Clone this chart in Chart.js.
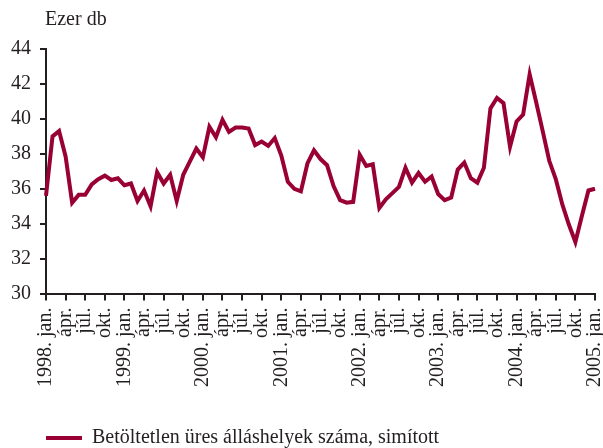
<!DOCTYPE html>
<html>
<head>
<meta charset="utf-8">
<script src="https://cdn.jsdelivr.net/npm/chart.js@4.4.0/dist/chart.umd.min.js"></script>
<style>
  html, body { margin: 0; padding: 0; background: #ffffff; }
  #wrap { position: relative; width: 603px; height: 448px; }
</style>
</head>
<body>
<div id="wrap"><canvas id="c" width="603" height="448"></canvas></div>
<script>
// ---- data ----
const years = ["1998", "1999", "2000", "2001", "2002", "2003", "2004", "2005"];
const quarterMonths = ["jan.", "ápr.", "júl.", "okt."];
const unitLabel = "Ezer db";
const seriesName = "Betöltetlen üres álláshelyek száma, simított";
const vacancies = [
  35.6, 39.0, 39.3, 37.85, 35.2, 35.65, 35.65, 36.25, 36.55, 36.75, 36.5, 36.6,
  36.2, 36.3, 35.3, 35.9, 35.0, 36.95, 36.3, 36.8, 35.3, 36.8, 37.55, 38.3,
  37.8, 39.55, 38.95, 39.95, 39.25, 39.5, 39.5, 39.45, 38.5, 38.7, 38.45, 38.9,
  37.9, 36.4, 36.0, 35.85, 37.45, 38.2, 37.7, 37.35, 36.15, 35.35, 35.2, 35.25,
  37.95, 37.3, 37.4, 34.9, 35.4, 35.75, 36.1, 37.2, 36.35, 36.9, 36.4, 36.7,
  35.7, 35.35, 35.5, 37.1, 37.5, 36.6, 36.35, 37.2, 40.6, 41.2, 40.9, 38.4,
  39.85, 40.25, 42.55, 40.95, 39.3, 37.6, 36.55, 35.1, 33.95, 32.95, 34.45, 35.9,
  36.0
];
const yMin = 30, yMax = 44, yStep = 2;

// build month labels (every third month labelled)
const labels = vacancies.map((v, i) => {
  if (i % 3 !== 0) return "";
  const m = quarterMonths[(i % 12) / 3];
  return (i % 12 === 0) ? years[i / 12] + ". " + m : m;
});

const FONT = "'Liberation Serif', 'Times New Roman', serif";
const INK = "#231f20";
const LINE = "#990033";
const LEGEND_PAD = 4;
const LEGEND_DROP = 10;

const unitPlugin = {
  id: 'unitText',
  afterLayout(chart) {
    // align legend sample with the left edge of the plot, sit it lower
    const lg = chart.legend;
    if (lg) {
      const dx = chart.chartArea.left - LEGEND_PAD - lg.left;
      lg.left += dx; lg.right += dx;
      lg.top += LEGEND_DROP; lg.bottom += LEGEND_DROP;
    }
  },
  afterDraw(chart) {
    const ctx = chart.ctx;
    ctx.save();
    ctx.font = "20px " + FONT;
    ctx.fillStyle = INK;
    ctx.textBaseline = "alphabetic";
    ctx.textAlign = "left";
    ctx.fillText(unitLabel, chart.chartArea.left - 1, 25);
    ctx.restore();
  }
};

new Chart(document.getElementById('c'), {
  type: 'line',
  data: {
    labels: labels,
    datasets: [{
      label: seriesName,
      data: vacancies,
      borderColor: LINE,
      backgroundColor: LINE,
      borderWidth: 4,
      pointRadius: 0,
      tension: 0,
      fill: false
    }]
  },
  options: {
    responsive: false,
    animation: false,
    layout: { padding: { left: 2, right: 8, top: 49, bottom: 0 } },
    plugins: {
      legend: {
        position: 'bottom',
        align: 'start',
        labels: {
          boxWidth: 36,
          boxHeight: 4,
          padding: LEGEND_PAD,
          color: INK,
          font: { family: FONT, size: 20 },
          generateLabels(chart) {
            const items = Chart.defaults.plugins.legend.labels.generateLabels(chart);
            items.forEach(it => { it.lineWidth = 0; it.fillStyle = LINE; });
            return items;
          }
        }
      },
      tooltip: { enabled: false }
    },
    scales: {
      x: {
        type: 'category',
        offset: false,
        afterFit(s) { s.paddingLeft = 0; s.paddingRight = 0; s.height += 20; },
        border: { display: true, color: INK, width: 2 },
        grid: {
          drawOnChartArea: false,
          drawTicks: true,
          tickLength: 7,
          lineWidth: 2,
          color: (c) => (c.index % 3 === 0 ? INK : 'rgba(0,0,0,0)')
        },
        ticks: {
          autoSkip: false,
          maxRotation: 90,
          minRotation: 90,
          padding: 7,
          color: INK,
          font: { family: FONT, size: 20 }
        }
      },
      y: {
        min: yMin,
        max: yMax,
        border: { display: true, color: INK, width: 2 },
        grid: {
          drawOnChartArea: false,
          drawTicks: true,
          tickLength: 6,
          lineWidth: 2,
          color: INK
        },
        ticks: {
          stepSize: yStep,
          padding: 9,
          color: INK,
          font: { family: FONT, size: 20 }
        }
      }
    }
  },
  plugins: [unitPlugin]
});
</script>
</body>
</html>
